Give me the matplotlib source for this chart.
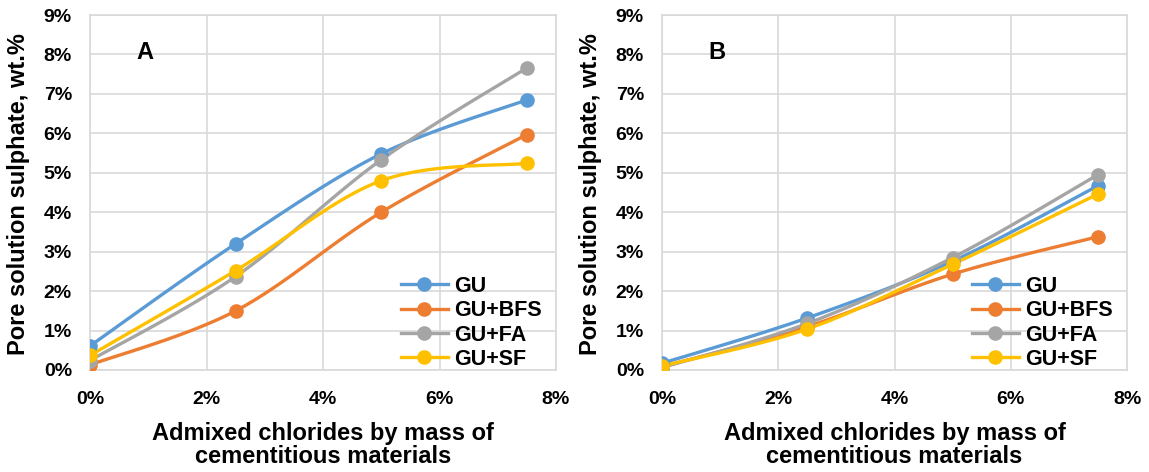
import numpy as np
import matplotlib
matplotlib.use("Agg")
import matplotlib.pyplot as plt
from matplotlib.ticker import FuncFormatter, MultipleLocator

chlorides = [0.0, 2.5, 5.0, 7.5]
series_names = ["GU", "GU+BFS", "GU+FA", "GU+SF"]
colors = ["#5B9BD5", "#ED7D31", "#A5A5A5", "#FFC000"]

a_gu = [0.61, 3.20, 5.48, 6.85]
a_bfs = [0.13, 1.50, 4.00, 5.97]
a_fa = [0.24, 2.37, 5.33, 7.66]
a_sf = [0.37, 2.52, 4.80, 5.24]

b_gu = [0.17, 1.32, 2.76, 4.67]
b_bfs = [0.08, 1.10, 2.43, 3.38]
b_fa = [0.06, 1.18, 2.85, 4.95]
b_sf = [0.10, 1.04, 2.68, 4.46]

panels = [("A", [a_gu, a_bfs, a_fa, a_sf]), ("B", [b_gu, b_bfs, b_fa, b_sf])]

plt.rcParams['font.family'] = ['Liberation Sans', 'DejaVu Sans']
plt.rcParams['font.weight'] = 'bold'


def smooth(x, y, n=40):
    # Catmull-Rom style smoothing (as in spreadsheet "smoothed line")
    x = np.asarray(x, float); y = np.asarray(y, float)
    px = np.concatenate([[x[0]], x, [x[-1]]])
    py = np.concatenate([[y[0]], y, [y[-1]]])
    xs, ys = [], []
    for i in range(1, len(px) - 2):
        p0, p1, p2, p3 = (np.array([px[j], py[j]]) for j in (i - 1, i, i + 1, i + 2))
        c1 = p1 + (p2 - p0) / 6.0
        c2 = p2 - (p3 - p1) / 6.0
        t = np.linspace(0, 1, n)[:, None]
        pts = ((1 - t) ** 3) * p1 + 3 * ((1 - t) ** 2) * t * c1 + 3 * (1 - t) * t ** 2 * c2 + t ** 3 * p2
        xs.append(pts[:, 0]); ys.append(pts[:, 1])
    return np.concatenate(xs), np.concatenate(ys)


fig = plt.figure(figsize=(11.49, 4.72), dpi=100)
W, H = 1149, 472
rects = [(90, 15, 466, 355), (662, 15, 465, 355)]
pct = FuncFormatter(lambda v, p: f"{v:.0f}%")

for (label, data), (x0, y0, w, h) in zip(panels, rects):
    ax = fig.add_axes([x0 / W, 1 - (y0 + h) / H, w / W, h / H])
    for vals, name, c in zip(data, series_names, colors):
        sx, sy = smooth(chlorides, vals)
        ax.plot(sx, sy, color=c, lw=2.4, solid_capstyle='round', zorder=3)
        ax.plot(chlorides, vals, 'o', color=c, ms=9.5, zorder=4)
        ax.plot([], [], '-o', color=c, lw=2.4, ms=9.5, label=name)
    ax.set_xlim(0, 8)
    ax.set_ylim(0, 9)
    ax.xaxis.set_major_locator(MultipleLocator(2))
    ax.yaxis.set_major_locator(MultipleLocator(1))
    ax.xaxis.set_major_formatter(pct)
    ax.yaxis.set_major_formatter(pct)
    ax.grid(True, color="#d9d9d9", lw=1.2)
    ax.set_axisbelow(True)
    for s in ax.spines.values():
        s.set_color("#d9d9d9")
        s.set_linewidth(1.2)
    ax.tick_params(axis='x', length=0, labelsize=14, pad=15)
    ax.tick_params(axis='y', length=0, labelsize=14, pad=13)
    for t in ax.get_xticklabels() + ax.get_yticklabels():
        t.set_fontweight('bold')
    ax.set_xlabel("Admixed chlorides by mass of\ncementitious materials", fontsize=17, fontweight='bold',
                  labelpad=10, linespacing=1.04)
    ax.set_ylabel("Pore solution sulphate, wt.%", fontsize=17, fontweight='bold')
    ax.yaxis.set_label_coords(-0.128, 0.497)
    ax.text(0.118, 0.895, label, transform=ax.transAxes, fontsize=17, fontweight='bold', ha='center', va='center')
    leg = ax.legend(loc='lower right', bbox_to_anchor=(1 - 14 / w, 0.0), frameon=False, fontsize=15.5,
                    handlelength=2.2, handletextpad=0.3, labelspacing=0.16, borderaxespad=0.0,
                    borderpad=0.0)
    for t in leg.get_texts():
        t.set_fontweight('bold')

fig.savefig("out.png", dpi=100, facecolor="white")
